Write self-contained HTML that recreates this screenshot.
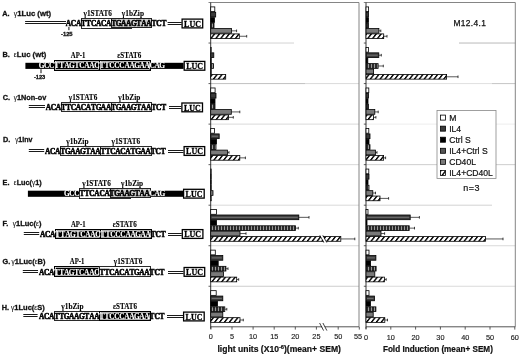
<!DOCTYPE html><html><head><meta charset="utf-8"><style>html,body{margin:0;padding:0;background:#fff;}svg{display:block;will-change:transform}.sans{font-family:"Liberation Sans",sans-serif}.serif{font-family:"Liberation Serif",serif}</style></head><body>
<svg width="520" height="356" viewBox="0 0 520 356">
<defs><pattern id="hatch" patternUnits="userSpaceOnUse" width="4.9" height="6" patternTransform="skewX(-38)"><rect width="4.9" height="6" fill="#fff"/><rect x="0" width="1.8" height="6" fill="#000"/></pattern><pattern id="vstripe" patternUnits="userSpaceOnUse" width="3" height="6"><rect width="3" height="6" fill="#2a2a2a"/><rect x="2" width="1" height="6" fill="#9a9a9a"/></pattern></defs>
<rect width="520" height="356" fill="#fff"/>
<text class="sans" x="2.20" y="16.0" font-size="7.3" font-weight="bold" fill="#111" stroke="#111" stroke-width="0.3">A.</text>
<text class="sans" x="13.8" y="16.0" font-size="7.6" font-weight="bold" fill="#111" stroke="#111" stroke-width="0.3" textLength="37.30" lengthAdjust="spacingAndGlyphs"><tspan font-weight="normal" stroke-width="0.1" font-size="6.6">γ</tspan>1Luc (wt)</text>
<rect x="25.1" y="21" width="40.90" height="1" fill="#1a1a1a"/>
<rect x="25.1" y="23" width="40.90" height="1" fill="#1a1a1a"/>
<rect x="167.6" y="22" width="14.10" height="1" fill="#1a1a1a"/>
<rect x="167.6" y="24" width="14.10" height="1" fill="#1a1a1a"/>
<rect x="81.50" y="18.50" width="50.00" height="10.00" fill="#fff" stroke="#2a2a2a" stroke-width="1"/>
<rect x="111.50" y="18.50" width="40.00" height="9.00" fill="#cccccc" stroke="#222" stroke-width="1"/>
<text class="serif" transform="translate(68.51,26.10) scale(1.0,1)" font-size="7.4" font-weight="bold" text-anchor="middle" fill="#000" stroke="#000" stroke-width="0.5">A</text>
<text class="serif" transform="translate(73.53,26.10) scale(1.0,1)" font-size="7.4" font-weight="bold" text-anchor="middle" fill="#000" stroke="#000" stroke-width="0.5">C</text>
<text class="serif" transform="translate(78.55,26.10) scale(1.0,1)" font-size="7.4" font-weight="bold" text-anchor="middle" fill="#000" stroke="#000" stroke-width="0.5">A</text>
<text class="serif" transform="translate(83.57,26.10) scale(1.0,1)" font-size="7.4" font-weight="bold" text-anchor="middle" fill="#000" stroke="#000" stroke-width="0.5">T</text>
<text class="serif" transform="translate(88.59,26.10) scale(1.0,1)" font-size="7.4" font-weight="bold" text-anchor="middle" fill="#000" stroke="#000" stroke-width="0.5">T</text>
<text class="serif" transform="translate(93.61,26.10) scale(1.0,1)" font-size="7.4" font-weight="bold" text-anchor="middle" fill="#000" stroke="#000" stroke-width="0.5">C</text>
<text class="serif" transform="translate(98.63,26.10) scale(1.0,1)" font-size="7.4" font-weight="bold" text-anchor="middle" fill="#000" stroke="#000" stroke-width="0.5">A</text>
<text class="serif" transform="translate(103.65,26.10) scale(1.0,1)" font-size="7.4" font-weight="bold" text-anchor="middle" fill="#000" stroke="#000" stroke-width="0.5">C</text>
<text class="serif" transform="translate(108.67,26.10) scale(1.0,1)" font-size="7.4" font-weight="bold" text-anchor="middle" fill="#000" stroke="#000" stroke-width="0.5">A</text>
<text class="serif" transform="translate(113.69,26.10) scale(1.0,1)" font-size="7.4" font-weight="bold" text-anchor="middle" fill="#000" stroke="#000" stroke-width="0.5">T</text>
<text class="serif" transform="translate(118.71,26.10) scale(1.0,1)" font-size="7.4" font-weight="bold" text-anchor="middle" fill="#000" stroke="#000" stroke-width="0.5">G</text>
<text class="serif" transform="translate(123.73,26.10) scale(1.0,1)" font-size="7.4" font-weight="bold" text-anchor="middle" fill="#000" stroke="#000" stroke-width="0.5">A</text>
<text class="serif" transform="translate(128.75,26.10) scale(1.0,1)" font-size="7.4" font-weight="bold" text-anchor="middle" fill="#000" stroke="#000" stroke-width="0.5">A</text>
<text class="serif" transform="translate(133.77,26.10) scale(1.0,1)" font-size="7.4" font-weight="bold" text-anchor="middle" fill="#000" stroke="#000" stroke-width="0.5">G</text>
<text class="serif" transform="translate(138.79,26.10) scale(1.0,1)" font-size="7.4" font-weight="bold" text-anchor="middle" fill="#000" stroke="#000" stroke-width="0.5">T</text>
<text class="serif" transform="translate(143.81,26.10) scale(1.0,1)" font-size="7.4" font-weight="bold" text-anchor="middle" fill="#000" stroke="#000" stroke-width="0.5">A</text>
<text class="serif" transform="translate(148.83,26.10) scale(1.0,1)" font-size="7.4" font-weight="bold" text-anchor="middle" fill="#000" stroke="#000" stroke-width="0.5">A</text>
<text class="serif" transform="translate(153.85,26.10) scale(1.0,1)" font-size="7.4" font-weight="bold" text-anchor="middle" fill="#000" stroke="#000" stroke-width="0.5">T</text>
<text class="serif" transform="translate(158.87,26.10) scale(1.0,1)" font-size="7.4" font-weight="bold" text-anchor="middle" fill="#000" stroke="#000" stroke-width="0.5">C</text>
<text class="serif" transform="translate(163.89,26.10) scale(1.0,1)" font-size="7.4" font-weight="bold" text-anchor="middle" fill="#000" stroke="#000" stroke-width="0.5">T</text>
<text class="serif" x="83.5" y="16.00" font-size="7.2" font-weight="bold" fill="#000" stroke="#000" stroke-width="0.1" textLength="28.5" lengthAdjust="spacingAndGlyphs">γ1STAT6</text>
<text class="serif" x="121.8" y="16.00" font-size="7.2" font-weight="bold" fill="#000" stroke="#000" stroke-width="0.1" textLength="22.2" lengthAdjust="spacingAndGlyphs">γ1bZip</text>
<rect x="182.10" y="19.10" width="20.6" height="8.8" fill="#fff" stroke="#000" stroke-width="1.3"/>
<text class="serif" x="184.10" y="26.80" font-size="9.2" font-weight="bold" fill="#000" stroke="#000" stroke-width="0.3" textLength="16.8" lengthAdjust="spacingAndGlyphs">LUC</text>
<text class="sans" x="2.60" y="57.2" font-size="7.3" font-weight="bold" fill="#111" stroke="#111" stroke-width="0.3">B.</text>
<text class="sans" x="13.8" y="57.2" font-size="7.6" font-weight="bold" fill="#111" stroke="#111" stroke-width="0.3" textLength="32.50" lengthAdjust="spacingAndGlyphs"><tspan font-weight="normal" stroke-width="0.1" font-size="6.6">ε</tspan>Luc (wt)</text>
<rect x="25.4" y="62.80" width="158.20" height="6.1" fill="#000"/>
<rect x="54.00" y="60.00" width="46.00" height="11.00" fill="#000"/>
<rect x="55.50" y="61.50" width="43.00" height="8.00" fill="none" stroke="#fff" stroke-width="0.7"/>
<rect x="99.00" y="60.00" width="52.00" height="11.00" fill="#000"/>
<rect x="100.50" y="61.50" width="49.00" height="8.00" fill="none" stroke="#fff" stroke-width="0.7"/>
<text class="serif" transform="translate(41.71,68.40) scale(1.0,1)" font-size="7.4" font-weight="bold" text-anchor="middle" fill="#fff" stroke="#fff" stroke-width="0.12">G</text>
<text class="serif" transform="translate(46.73,68.40) scale(1.0,1)" font-size="7.4" font-weight="bold" text-anchor="middle" fill="#fff" stroke="#fff" stroke-width="0.12">C</text>
<text class="serif" transform="translate(51.75,68.40) scale(1.0,1)" font-size="7.4" font-weight="bold" text-anchor="middle" fill="#fff" stroke="#fff" stroke-width="0.12">C</text>
<text class="serif" transform="translate(56.77,68.40) scale(1.0,1)" font-size="7.4" font-weight="bold" text-anchor="middle" fill="#fff" stroke="#fff" stroke-width="0.12">T</text>
<text class="serif" transform="translate(61.79,68.40) scale(1.0,1)" font-size="7.4" font-weight="bold" text-anchor="middle" fill="#fff" stroke="#fff" stroke-width="0.12">T</text>
<text class="serif" transform="translate(66.81,68.40) scale(1.0,1)" font-size="7.4" font-weight="bold" text-anchor="middle" fill="#fff" stroke="#fff" stroke-width="0.12">A</text>
<text class="serif" transform="translate(71.83,68.40) scale(1.0,1)" font-size="7.4" font-weight="bold" text-anchor="middle" fill="#fff" stroke="#fff" stroke-width="0.12">G</text>
<text class="serif" transform="translate(76.85,68.40) scale(1.0,1)" font-size="7.4" font-weight="bold" text-anchor="middle" fill="#fff" stroke="#fff" stroke-width="0.12">T</text>
<text class="serif" transform="translate(81.87,68.40) scale(1.0,1)" font-size="7.4" font-weight="bold" text-anchor="middle" fill="#fff" stroke="#fff" stroke-width="0.12">C</text>
<text class="serif" transform="translate(86.89,68.40) scale(1.0,1)" font-size="7.4" font-weight="bold" text-anchor="middle" fill="#fff" stroke="#fff" stroke-width="0.12">A</text>
<text class="serif" transform="translate(91.91,68.40) scale(1.0,1)" font-size="7.4" font-weight="bold" text-anchor="middle" fill="#fff" stroke="#fff" stroke-width="0.12">A</text>
<text class="serif" transform="translate(96.93,68.40) scale(1.0,1)" font-size="7.4" font-weight="bold" text-anchor="middle" fill="#fff" stroke="#fff" stroke-width="0.12">C</text>
<text class="serif" transform="translate(101.95,68.40) scale(1.0,1)" font-size="7.4" font-weight="bold" text-anchor="middle" fill="#fff" stroke="#fff" stroke-width="0.12">T</text>
<text class="serif" transform="translate(106.97,68.40) scale(1.0,1)" font-size="7.4" font-weight="bold" text-anchor="middle" fill="#fff" stroke="#fff" stroke-width="0.12">T</text>
<text class="serif" transform="translate(111.99,68.40) scale(1.0,1)" font-size="7.4" font-weight="bold" text-anchor="middle" fill="#fff" stroke="#fff" stroke-width="0.12">C</text>
<text class="serif" transform="translate(117.01,68.40) scale(1.0,1)" font-size="7.4" font-weight="bold" text-anchor="middle" fill="#fff" stroke="#fff" stroke-width="0.12">C</text>
<text class="serif" transform="translate(122.03,68.40) scale(1.0,1)" font-size="7.4" font-weight="bold" text-anchor="middle" fill="#fff" stroke="#fff" stroke-width="0.12">C</text>
<text class="serif" transform="translate(127.05,68.40) scale(1.0,1)" font-size="7.4" font-weight="bold" text-anchor="middle" fill="#fff" stroke="#fff" stroke-width="0.12">A</text>
<text class="serif" transform="translate(132.07,68.40) scale(1.0,1)" font-size="7.4" font-weight="bold" text-anchor="middle" fill="#fff" stroke="#fff" stroke-width="0.12">A</text>
<text class="serif" transform="translate(137.09,68.40) scale(1.0,1)" font-size="7.4" font-weight="bold" text-anchor="middle" fill="#fff" stroke="#fff" stroke-width="0.12">G</text>
<text class="serif" transform="translate(142.11,68.40) scale(1.0,1)" font-size="7.4" font-weight="bold" text-anchor="middle" fill="#fff" stroke="#fff" stroke-width="0.12">A</text>
<text class="serif" transform="translate(147.13,68.40) scale(1.0,1)" font-size="7.4" font-weight="bold" text-anchor="middle" fill="#fff" stroke="#fff" stroke-width="0.12">A</text>
<text class="serif" transform="translate(152.15,68.40) scale(1.0,1)" font-size="7.4" font-weight="bold" text-anchor="middle" fill="#fff" stroke="#fff" stroke-width="0.12">C</text>
<text class="serif" transform="translate(157.17,68.40) scale(1.0,1)" font-size="7.4" font-weight="bold" text-anchor="middle" fill="#fff" stroke="#fff" stroke-width="0.12">A</text>
<text class="serif" transform="translate(162.19,68.40) scale(1.0,1)" font-size="7.4" font-weight="bold" text-anchor="middle" fill="#fff" stroke="#fff" stroke-width="0.12">G</text>
<text class="serif" x="70.8" y="58.30" font-size="7.2" font-weight="bold" fill="#000" stroke="#000" stroke-width="0.1" textLength="14.6" lengthAdjust="spacingAndGlyphs">AP-1</text>
<text class="serif" x="117.3" y="58.30" font-size="7.2" font-weight="bold" fill="#000" stroke="#000" stroke-width="0.1" textLength="24.0" lengthAdjust="spacingAndGlyphs">εSTAT6</text>
<rect x="184.20" y="61.40" width="20.6" height="8.8" fill="#fff" stroke="#000" stroke-width="1.3"/>
<text class="serif" x="186.20" y="69.10" font-size="9.2" font-weight="bold" fill="#000" stroke="#000" stroke-width="0.3" textLength="16.8" lengthAdjust="spacingAndGlyphs">LUC</text>
<text class="sans" x="2.70" y="99.8" font-size="7.3" font-weight="bold" fill="#111" stroke="#111" stroke-width="0.3">C.</text>
<text class="sans" x="13.8" y="99.8" font-size="7.6" font-weight="bold" fill="#111" stroke="#111" stroke-width="0.3" textLength="32.50" lengthAdjust="spacingAndGlyphs"><tspan font-weight="normal" stroke-width="0.1" font-size="6.6">γ</tspan>1Non-ov</text>
<rect x="28.8" y="105" width="16.20" height="1" fill="#1a1a1a"/>
<rect x="28.8" y="107" width="16.20" height="1" fill="#1a1a1a"/>
<rect x="169.0" y="106" width="12.30" height="1" fill="#1a1a1a"/>
<rect x="169.0" y="108" width="12.30" height="1" fill="#1a1a1a"/>
<rect x="61.50" y="102.50" width="50.00" height="9.00" fill="#fff" stroke="#2a2a2a" stroke-width="1"/>
<rect x="111.50" y="102.50" width="40.00" height="9.00" fill="#fff" stroke="#2a2a2a" stroke-width="1"/>
<text class="serif" transform="translate(48.31,110.00) scale(1.0,1)" font-size="7.4" font-weight="bold" text-anchor="middle" fill="#000" stroke="#000" stroke-width="0.5">A</text>
<text class="serif" transform="translate(53.33,110.00) scale(1.0,1)" font-size="7.4" font-weight="bold" text-anchor="middle" fill="#000" stroke="#000" stroke-width="0.5">C</text>
<text class="serif" transform="translate(58.35,110.00) scale(1.0,1)" font-size="7.4" font-weight="bold" text-anchor="middle" fill="#000" stroke="#000" stroke-width="0.5">A</text>
<text class="serif" transform="translate(63.37,110.00) scale(1.0,1)" font-size="7.4" font-weight="bold" text-anchor="middle" fill="#000" stroke="#000" stroke-width="0.5">T</text>
<text class="serif" transform="translate(68.39,110.00) scale(1.0,1)" font-size="7.4" font-weight="bold" text-anchor="middle" fill="#000" stroke="#000" stroke-width="0.5">T</text>
<text class="serif" transform="translate(73.41,110.00) scale(1.0,1)" font-size="7.4" font-weight="bold" text-anchor="middle" fill="#000" stroke="#000" stroke-width="0.5">C</text>
<text class="serif" transform="translate(78.43,110.00) scale(1.0,1)" font-size="7.4" font-weight="bold" text-anchor="middle" fill="#000" stroke="#000" stroke-width="0.5">A</text>
<text class="serif" transform="translate(83.45,110.00) scale(1.0,1)" font-size="7.4" font-weight="bold" text-anchor="middle" fill="#000" stroke="#000" stroke-width="0.5">C</text>
<text class="serif" transform="translate(88.47,110.00) scale(1.0,1)" font-size="7.4" font-weight="bold" text-anchor="middle" fill="#000" stroke="#000" stroke-width="0.5">A</text>
<text class="serif" transform="translate(93.49,110.00) scale(1.0,1)" font-size="7.4" font-weight="bold" text-anchor="middle" fill="#000" stroke="#000" stroke-width="0.5">T</text>
<text class="serif" transform="translate(98.51,110.00) scale(1.0,1)" font-size="7.4" font-weight="bold" text-anchor="middle" fill="#000" stroke="#000" stroke-width="0.5">G</text>
<text class="serif" transform="translate(103.53,110.00) scale(1.0,1)" font-size="7.4" font-weight="bold" text-anchor="middle" fill="#000" stroke="#000" stroke-width="0.5">A</text>
<text class="serif" transform="translate(108.55,110.00) scale(1.0,1)" font-size="7.4" font-weight="bold" text-anchor="middle" fill="#000" stroke="#000" stroke-width="0.5">A</text>
<text class="serif" transform="translate(113.57,110.00) scale(1.0,1)" font-size="7.4" font-weight="bold" text-anchor="middle" fill="#000" stroke="#000" stroke-width="0.5">T</text>
<text class="serif" transform="translate(118.59,110.00) scale(1.0,1)" font-size="7.4" font-weight="bold" text-anchor="middle" fill="#000" stroke="#000" stroke-width="0.5">G</text>
<text class="serif" transform="translate(123.61,110.00) scale(1.0,1)" font-size="7.4" font-weight="bold" text-anchor="middle" fill="#000" stroke="#000" stroke-width="0.5">A</text>
<text class="serif" transform="translate(128.63,110.00) scale(1.0,1)" font-size="7.4" font-weight="bold" text-anchor="middle" fill="#000" stroke="#000" stroke-width="0.5">A</text>
<text class="serif" transform="translate(133.65,110.00) scale(1.0,1)" font-size="7.4" font-weight="bold" text-anchor="middle" fill="#000" stroke="#000" stroke-width="0.5">G</text>
<text class="serif" transform="translate(138.67,110.00) scale(1.0,1)" font-size="7.4" font-weight="bold" text-anchor="middle" fill="#000" stroke="#000" stroke-width="0.5">T</text>
<text class="serif" transform="translate(143.69,110.00) scale(1.0,1)" font-size="7.4" font-weight="bold" text-anchor="middle" fill="#000" stroke="#000" stroke-width="0.5">A</text>
<text class="serif" transform="translate(148.71,110.00) scale(1.0,1)" font-size="7.4" font-weight="bold" text-anchor="middle" fill="#000" stroke="#000" stroke-width="0.5">A</text>
<text class="serif" transform="translate(153.73,110.00) scale(1.0,1)" font-size="7.4" font-weight="bold" text-anchor="middle" fill="#000" stroke="#000" stroke-width="0.5">T</text>
<text class="serif" transform="translate(158.75,110.00) scale(1.0,1)" font-size="7.4" font-weight="bold" text-anchor="middle" fill="#000" stroke="#000" stroke-width="0.5">C</text>
<text class="serif" transform="translate(163.77,110.00) scale(1.0,1)" font-size="7.4" font-weight="bold" text-anchor="middle" fill="#000" stroke="#000" stroke-width="0.5">T</text>
<text class="serif" x="68.8" y="99.90" font-size="7.2" font-weight="bold" fill="#000" stroke="#000" stroke-width="0.1" textLength="28.5" lengthAdjust="spacingAndGlyphs">γ1STAT6</text>
<text class="serif" x="118.2" y="99.90" font-size="7.2" font-weight="bold" fill="#000" stroke="#000" stroke-width="0.1" textLength="22.2" lengthAdjust="spacingAndGlyphs">γ1bZip</text>
<rect x="181.90" y="103.00" width="20.6" height="8.8" fill="#fff" stroke="#000" stroke-width="1.3"/>
<text class="serif" x="183.90" y="110.70" font-size="9.2" font-weight="bold" fill="#000" stroke="#000" stroke-width="0.3" textLength="16.8" lengthAdjust="spacingAndGlyphs">LUC</text>
<text class="sans" x="2.90" y="142.3" font-size="7.3" font-weight="bold" fill="#111" stroke="#111" stroke-width="0.3">D.</text>
<text class="sans" x="15.2" y="142.3" font-size="7.6" font-weight="bold" fill="#111" stroke="#111" stroke-width="0.3" textLength="17.20" lengthAdjust="spacingAndGlyphs"><tspan font-weight="normal" stroke-width="0.1" font-size="6.6">γ</tspan>1Inv</text>
<rect x="28.8" y="149" width="15.40" height="1" fill="#1a1a1a"/>
<rect x="28.8" y="151" width="15.40" height="1" fill="#1a1a1a"/>
<rect x="168.0" y="150" width="15.50" height="1" fill="#1a1a1a"/>
<rect x="168.0" y="152" width="15.50" height="1" fill="#1a1a1a"/>
<rect x="60.50" y="146.50" width="40.00" height="9.00" fill="#fff" stroke="#2a2a2a" stroke-width="1"/>
<rect x="100.50" y="146.50" width="51.00" height="9.00" fill="#fff" stroke="#2a2a2a" stroke-width="1"/>
<text class="serif" transform="translate(47.71,153.60) scale(1.0,1)" font-size="7.4" font-weight="bold" text-anchor="middle" fill="#000" stroke="#000" stroke-width="0.5">A</text>
<text class="serif" transform="translate(52.73,153.60) scale(1.0,1)" font-size="7.4" font-weight="bold" text-anchor="middle" fill="#000" stroke="#000" stroke-width="0.5">C</text>
<text class="serif" transform="translate(57.75,153.60) scale(1.0,1)" font-size="7.4" font-weight="bold" text-anchor="middle" fill="#000" stroke="#000" stroke-width="0.5">A</text>
<text class="serif" transform="translate(62.77,153.60) scale(1.0,1)" font-size="7.4" font-weight="bold" text-anchor="middle" fill="#000" stroke="#000" stroke-width="0.5">T</text>
<text class="serif" transform="translate(67.79,153.60) scale(1.0,1)" font-size="7.4" font-weight="bold" text-anchor="middle" fill="#000" stroke="#000" stroke-width="0.5">G</text>
<text class="serif" transform="translate(72.81,153.60) scale(1.0,1)" font-size="7.4" font-weight="bold" text-anchor="middle" fill="#000" stroke="#000" stroke-width="0.5">A</text>
<text class="serif" transform="translate(77.83,153.60) scale(1.0,1)" font-size="7.4" font-weight="bold" text-anchor="middle" fill="#000" stroke="#000" stroke-width="0.5">A</text>
<text class="serif" transform="translate(82.85,153.60) scale(1.0,1)" font-size="7.4" font-weight="bold" text-anchor="middle" fill="#000" stroke="#000" stroke-width="0.5">G</text>
<text class="serif" transform="translate(87.87,153.60) scale(1.0,1)" font-size="7.4" font-weight="bold" text-anchor="middle" fill="#000" stroke="#000" stroke-width="0.5">T</text>
<text class="serif" transform="translate(92.89,153.60) scale(1.0,1)" font-size="7.4" font-weight="bold" text-anchor="middle" fill="#000" stroke="#000" stroke-width="0.5">A</text>
<text class="serif" transform="translate(97.91,153.60) scale(1.0,1)" font-size="7.4" font-weight="bold" text-anchor="middle" fill="#000" stroke="#000" stroke-width="0.5">A</text>
<text class="serif" transform="translate(102.93,153.60) scale(1.0,1)" font-size="7.4" font-weight="bold" text-anchor="middle" fill="#000" stroke="#000" stroke-width="0.5">T</text>
<text class="serif" transform="translate(107.95,153.60) scale(1.0,1)" font-size="7.4" font-weight="bold" text-anchor="middle" fill="#000" stroke="#000" stroke-width="0.5">T</text>
<text class="serif" transform="translate(112.97,153.60) scale(1.0,1)" font-size="7.4" font-weight="bold" text-anchor="middle" fill="#000" stroke="#000" stroke-width="0.5">C</text>
<text class="serif" transform="translate(117.99,153.60) scale(1.0,1)" font-size="7.4" font-weight="bold" text-anchor="middle" fill="#000" stroke="#000" stroke-width="0.5">A</text>
<text class="serif" transform="translate(123.01,153.60) scale(1.0,1)" font-size="7.4" font-weight="bold" text-anchor="middle" fill="#000" stroke="#000" stroke-width="0.5">C</text>
<text class="serif" transform="translate(128.03,153.60) scale(1.0,1)" font-size="7.4" font-weight="bold" text-anchor="middle" fill="#000" stroke="#000" stroke-width="0.5">A</text>
<text class="serif" transform="translate(133.05,153.60) scale(1.0,1)" font-size="7.4" font-weight="bold" text-anchor="middle" fill="#000" stroke="#000" stroke-width="0.5">T</text>
<text class="serif" transform="translate(138.07,153.60) scale(1.0,1)" font-size="7.4" font-weight="bold" text-anchor="middle" fill="#000" stroke="#000" stroke-width="0.5">G</text>
<text class="serif" transform="translate(143.09,153.60) scale(1.0,1)" font-size="7.4" font-weight="bold" text-anchor="middle" fill="#000" stroke="#000" stroke-width="0.5">A</text>
<text class="serif" transform="translate(148.11,153.60) scale(1.0,1)" font-size="7.4" font-weight="bold" text-anchor="middle" fill="#000" stroke="#000" stroke-width="0.5">A</text>
<text class="serif" transform="translate(153.13,153.60) scale(1.0,1)" font-size="7.4" font-weight="bold" text-anchor="middle" fill="#000" stroke="#000" stroke-width="0.5">T</text>
<text class="serif" transform="translate(158.15,153.60) scale(1.0,1)" font-size="7.4" font-weight="bold" text-anchor="middle" fill="#000" stroke="#000" stroke-width="0.5">C</text>
<text class="serif" transform="translate(163.17,153.60) scale(1.0,1)" font-size="7.4" font-weight="bold" text-anchor="middle" fill="#000" stroke="#000" stroke-width="0.5">T</text>
<text class="serif" x="66.3" y="143.50" font-size="7.2" font-weight="bold" fill="#000" stroke="#000" stroke-width="0.1" textLength="22.2" lengthAdjust="spacingAndGlyphs">γ1bZip</text>
<text class="serif" x="111.6" y="143.50" font-size="7.2" font-weight="bold" fill="#000" stroke="#000" stroke-width="0.1" textLength="28.5" lengthAdjust="spacingAndGlyphs">γ1STAT6</text>
<rect x="184.10" y="146.60" width="20.6" height="8.8" fill="#fff" stroke="#000" stroke-width="1.3"/>
<text class="serif" x="186.10" y="154.30" font-size="9.2" font-weight="bold" fill="#000" stroke="#000" stroke-width="0.3" textLength="16.8" lengthAdjust="spacingAndGlyphs">LUC</text>
<text class="sans" x="2.60" y="184.8" font-size="7.3" font-weight="bold" fill="#111" stroke="#111" stroke-width="0.3">E.</text>
<text class="sans" x="13.8" y="184.8" font-size="7.6" font-weight="bold" fill="#111" stroke="#111" stroke-width="0.3" textLength="27.90" lengthAdjust="spacingAndGlyphs"><tspan font-weight="normal" stroke-width="0.1" font-size="6.6">ε</tspan>Luc(<tspan font-weight="normal" stroke-width="0.1" font-size="6.6">γ</tspan>1)</text>
<rect x="27.9" y="190.70" width="155.10" height="6.1" fill="#000"/>
<rect x="79.50" y="188.50" width="51.00" height="10.00" fill="#fff" stroke="#2a2a2a" stroke-width="1"/>
<rect x="110.50" y="188.50" width="40.00" height="9.00" fill="#cccccc" stroke="#222" stroke-width="1"/>
<text class="serif" transform="translate(66.91,196.30) scale(1.0,1)" font-size="7.4" font-weight="bold" text-anchor="middle" fill="#fff" stroke="#fff" stroke-width="0.12">G</text>
<text class="serif" transform="translate(71.93,196.30) scale(1.0,1)" font-size="7.4" font-weight="bold" text-anchor="middle" fill="#fff" stroke="#fff" stroke-width="0.12">C</text>
<text class="serif" transform="translate(76.95,196.30) scale(1.0,1)" font-size="7.4" font-weight="bold" text-anchor="middle" fill="#fff" stroke="#fff" stroke-width="0.12">C</text>
<text class="serif" transform="translate(81.97,196.30) scale(1.0,1)" font-size="7.4" font-weight="bold" text-anchor="middle" fill="#000" stroke="#000" stroke-width="0.5">T</text>
<text class="serif" transform="translate(86.99,196.30) scale(1.0,1)" font-size="7.4" font-weight="bold" text-anchor="middle" fill="#000" stroke="#000" stroke-width="0.5">T</text>
<text class="serif" transform="translate(92.01,196.30) scale(1.0,1)" font-size="7.4" font-weight="bold" text-anchor="middle" fill="#000" stroke="#000" stroke-width="0.5">C</text>
<text class="serif" transform="translate(97.03,196.30) scale(1.0,1)" font-size="7.4" font-weight="bold" text-anchor="middle" fill="#000" stroke="#000" stroke-width="0.5">A</text>
<text class="serif" transform="translate(102.05,196.30) scale(1.0,1)" font-size="7.4" font-weight="bold" text-anchor="middle" fill="#000" stroke="#000" stroke-width="0.5">C</text>
<text class="serif" transform="translate(107.07,196.30) scale(1.0,1)" font-size="7.4" font-weight="bold" text-anchor="middle" fill="#000" stroke="#000" stroke-width="0.5">A</text>
<text class="serif" transform="translate(112.09,196.30) scale(1.0,1)" font-size="7.4" font-weight="bold" text-anchor="middle" fill="#000" stroke="#000" stroke-width="0.5">T</text>
<text class="serif" transform="translate(117.11,196.30) scale(1.0,1)" font-size="7.4" font-weight="bold" text-anchor="middle" fill="#000" stroke="#000" stroke-width="0.5">G</text>
<text class="serif" transform="translate(122.13,196.30) scale(1.0,1)" font-size="7.4" font-weight="bold" text-anchor="middle" fill="#000" stroke="#000" stroke-width="0.5">A</text>
<text class="serif" transform="translate(127.15,196.30) scale(1.0,1)" font-size="7.4" font-weight="bold" text-anchor="middle" fill="#000" stroke="#000" stroke-width="0.5">A</text>
<text class="serif" transform="translate(132.17,196.30) scale(1.0,1)" font-size="7.4" font-weight="bold" text-anchor="middle" fill="#000" stroke="#000" stroke-width="0.5">G</text>
<text class="serif" transform="translate(137.19,196.30) scale(1.0,1)" font-size="7.4" font-weight="bold" text-anchor="middle" fill="#000" stroke="#000" stroke-width="0.5">T</text>
<text class="serif" transform="translate(142.21,196.30) scale(1.0,1)" font-size="7.4" font-weight="bold" text-anchor="middle" fill="#000" stroke="#000" stroke-width="0.5">A</text>
<text class="serif" transform="translate(147.23,196.30) scale(1.0,1)" font-size="7.4" font-weight="bold" text-anchor="middle" fill="#000" stroke="#000" stroke-width="0.5">A</text>
<text class="serif" transform="translate(152.25,196.30) scale(1.0,1)" font-size="7.4" font-weight="bold" text-anchor="middle" fill="#fff" stroke="#fff" stroke-width="0.12">C</text>
<text class="serif" transform="translate(157.27,196.30) scale(1.0,1)" font-size="7.4" font-weight="bold" text-anchor="middle" fill="#fff" stroke="#fff" stroke-width="0.12">A</text>
<text class="serif" transform="translate(162.29,196.30) scale(1.0,1)" font-size="7.4" font-weight="bold" text-anchor="middle" fill="#fff" stroke="#fff" stroke-width="0.12">G</text>
<text class="serif" x="82.3" y="186.20" font-size="7.2" font-weight="bold" fill="#000" stroke="#000" stroke-width="0.1" textLength="28.5" lengthAdjust="spacingAndGlyphs">γ1STAT6</text>
<text class="serif" x="121.0" y="186.20" font-size="7.2" font-weight="bold" fill="#000" stroke="#000" stroke-width="0.1" textLength="22.2" lengthAdjust="spacingAndGlyphs">γ1bZip</text>
<rect x="183.60" y="189.30" width="20.6" height="8.8" fill="#fff" stroke="#000" stroke-width="1.3"/>
<text class="serif" x="185.60" y="197.00" font-size="9.2" font-weight="bold" fill="#000" stroke="#000" stroke-width="0.3" textLength="16.8" lengthAdjust="spacingAndGlyphs">LUC</text>
<text class="sans" x="2.60" y="226.0" font-size="7.3" font-weight="bold" fill="#111" stroke="#111" stroke-width="0.3">F.</text>
<text class="sans" x="12.7" y="226.0" font-size="7.6" font-weight="bold" fill="#111" stroke="#111" stroke-width="0.3" textLength="28.70" lengthAdjust="spacingAndGlyphs"><tspan font-weight="normal" stroke-width="0.1" font-size="6.6">γ</tspan>1Luc(<tspan font-weight="normal" stroke-width="0.1" font-size="6.6">ε</tspan>)</text>
<rect x="23.8" y="232" width="15.40" height="1" fill="#1a1a1a"/>
<rect x="23.8" y="234" width="15.40" height="1" fill="#1a1a1a"/>
<rect x="168.0" y="233" width="13.70" height="1" fill="#1a1a1a"/>
<rect x="168.0" y="235" width="13.70" height="1" fill="#1a1a1a"/>
<rect x="55.00" y="229.00" width="46.00" height="10.00" fill="#000"/>
<rect x="56.50" y="230.50" width="43.00" height="7.00" fill="none" stroke="#fff" stroke-width="0.7"/>
<rect x="100.00" y="229.00" width="52.00" height="10.00" fill="#000"/>
<rect x="101.50" y="230.50" width="49.00" height="7.00" fill="none" stroke="#fff" stroke-width="0.7"/>
<text class="serif" transform="translate(42.71,236.60) scale(1.0,1)" font-size="7.4" font-weight="bold" text-anchor="middle" fill="#000" stroke="#000" stroke-width="0.5">A</text>
<text class="serif" transform="translate(47.73,236.60) scale(1.0,1)" font-size="7.4" font-weight="bold" text-anchor="middle" fill="#000" stroke="#000" stroke-width="0.5">C</text>
<text class="serif" transform="translate(52.75,236.60) scale(1.0,1)" font-size="7.4" font-weight="bold" text-anchor="middle" fill="#000" stroke="#000" stroke-width="0.5">A</text>
<text class="serif" transform="translate(57.77,236.60) scale(1.0,1)" font-size="7.4" font-weight="bold" text-anchor="middle" fill="#fff" stroke="#fff" stroke-width="0.12">T</text>
<text class="serif" transform="translate(62.79,236.60) scale(1.0,1)" font-size="7.4" font-weight="bold" text-anchor="middle" fill="#fff" stroke="#fff" stroke-width="0.12">T</text>
<text class="serif" transform="translate(67.81,236.60) scale(1.0,1)" font-size="7.4" font-weight="bold" text-anchor="middle" fill="#fff" stroke="#fff" stroke-width="0.12">A</text>
<text class="serif" transform="translate(72.83,236.60) scale(1.0,1)" font-size="7.4" font-weight="bold" text-anchor="middle" fill="#fff" stroke="#fff" stroke-width="0.12">G</text>
<text class="serif" transform="translate(77.85,236.60) scale(1.0,1)" font-size="7.4" font-weight="bold" text-anchor="middle" fill="#fff" stroke="#fff" stroke-width="0.12">T</text>
<text class="serif" transform="translate(82.87,236.60) scale(1.0,1)" font-size="7.4" font-weight="bold" text-anchor="middle" fill="#fff" stroke="#fff" stroke-width="0.12">C</text>
<text class="serif" transform="translate(87.89,236.60) scale(1.0,1)" font-size="7.4" font-weight="bold" text-anchor="middle" fill="#fff" stroke="#fff" stroke-width="0.12">A</text>
<text class="serif" transform="translate(92.91,236.60) scale(1.0,1)" font-size="7.4" font-weight="bold" text-anchor="middle" fill="#fff" stroke="#fff" stroke-width="0.12">A</text>
<text class="serif" transform="translate(97.93,236.60) scale(1.0,1)" font-size="7.4" font-weight="bold" text-anchor="middle" fill="#fff" stroke="#fff" stroke-width="0.12">C</text>
<text class="serif" transform="translate(102.95,236.60) scale(1.0,1)" font-size="7.4" font-weight="bold" text-anchor="middle" fill="#fff" stroke="#fff" stroke-width="0.12">T</text>
<text class="serif" transform="translate(107.97,236.60) scale(1.0,1)" font-size="7.4" font-weight="bold" text-anchor="middle" fill="#fff" stroke="#fff" stroke-width="0.12">T</text>
<text class="serif" transform="translate(112.99,236.60) scale(1.0,1)" font-size="7.4" font-weight="bold" text-anchor="middle" fill="#fff" stroke="#fff" stroke-width="0.12">C</text>
<text class="serif" transform="translate(118.01,236.60) scale(1.0,1)" font-size="7.4" font-weight="bold" text-anchor="middle" fill="#fff" stroke="#fff" stroke-width="0.12">C</text>
<text class="serif" transform="translate(123.03,236.60) scale(1.0,1)" font-size="7.4" font-weight="bold" text-anchor="middle" fill="#fff" stroke="#fff" stroke-width="0.12">C</text>
<text class="serif" transform="translate(128.05,236.60) scale(1.0,1)" font-size="7.4" font-weight="bold" text-anchor="middle" fill="#fff" stroke="#fff" stroke-width="0.12">A</text>
<text class="serif" transform="translate(133.07,236.60) scale(1.0,1)" font-size="7.4" font-weight="bold" text-anchor="middle" fill="#fff" stroke="#fff" stroke-width="0.12">A</text>
<text class="serif" transform="translate(138.09,236.60) scale(1.0,1)" font-size="7.4" font-weight="bold" text-anchor="middle" fill="#fff" stroke="#fff" stroke-width="0.12">G</text>
<text class="serif" transform="translate(143.11,236.60) scale(1.0,1)" font-size="7.4" font-weight="bold" text-anchor="middle" fill="#fff" stroke="#fff" stroke-width="0.12">A</text>
<text class="serif" transform="translate(148.13,236.60) scale(1.0,1)" font-size="7.4" font-weight="bold" text-anchor="middle" fill="#fff" stroke="#fff" stroke-width="0.12">A</text>
<text class="serif" transform="translate(153.15,236.60) scale(1.0,1)" font-size="7.4" font-weight="bold" text-anchor="middle" fill="#000" stroke="#000" stroke-width="0.5">T</text>
<text class="serif" transform="translate(158.17,236.60) scale(1.0,1)" font-size="7.4" font-weight="bold" text-anchor="middle" fill="#000" stroke="#000" stroke-width="0.5">C</text>
<text class="serif" transform="translate(163.19,236.60) scale(1.0,1)" font-size="7.4" font-weight="bold" text-anchor="middle" fill="#000" stroke="#000" stroke-width="0.5">T</text>
<text class="serif" x="71.0" y="226.50" font-size="7.2" font-weight="bold" fill="#000" stroke="#000" stroke-width="0.1" textLength="14.6" lengthAdjust="spacingAndGlyphs">AP-1</text>
<text class="serif" x="112.7" y="226.50" font-size="7.2" font-weight="bold" fill="#000" stroke="#000" stroke-width="0.1" textLength="24.0" lengthAdjust="spacingAndGlyphs">εSTAT6</text>
<rect x="182.30" y="229.60" width="20.6" height="8.8" fill="#fff" stroke="#000" stroke-width="1.3"/>
<text class="serif" x="184.30" y="237.30" font-size="9.2" font-weight="bold" fill="#000" stroke="#000" stroke-width="0.3" textLength="16.8" lengthAdjust="spacingAndGlyphs">LUC</text>
<text class="sans" x="2.60" y="263.5" font-size="7.3" font-weight="bold" fill="#111" stroke="#111" stroke-width="0.3">G.</text>
<text class="sans" x="11.5" y="263.5" font-size="7.6" font-weight="bold" fill="#111" stroke="#111" stroke-width="0.3" textLength="33.90" lengthAdjust="spacingAndGlyphs"><tspan font-weight="normal" stroke-width="0.1" font-size="6.6">γ</tspan>1Luc(<tspan font-weight="normal" stroke-width="0.1" font-size="6.6">ε</tspan>B)</text>
<rect x="22.8" y="270" width="15.20" height="1" fill="#1a1a1a"/>
<rect x="22.8" y="272" width="15.20" height="1" fill="#1a1a1a"/>
<rect x="168.0" y="271" width="15.50" height="1" fill="#1a1a1a"/>
<rect x="168.0" y="273" width="15.50" height="1" fill="#1a1a1a"/>
<rect x="54.00" y="266.00" width="46.00" height="11.00" fill="#000"/>
<rect x="55.50" y="267.50" width="43.00" height="8.00" fill="none" stroke="#fff" stroke-width="0.7"/>
<rect x="99.50" y="266.50" width="51.00" height="10.00" fill="#fff" stroke="#2a2a2a" stroke-width="1"/>
<text class="serif" transform="translate(41.61,274.50) scale(1.0,1)" font-size="7.4" font-weight="bold" text-anchor="middle" fill="#000" stroke="#000" stroke-width="0.5">A</text>
<text class="serif" transform="translate(46.63,274.50) scale(1.0,1)" font-size="7.4" font-weight="bold" text-anchor="middle" fill="#000" stroke="#000" stroke-width="0.5">C</text>
<text class="serif" transform="translate(51.65,274.50) scale(1.0,1)" font-size="7.4" font-weight="bold" text-anchor="middle" fill="#000" stroke="#000" stroke-width="0.5">A</text>
<text class="serif" transform="translate(56.67,274.50) scale(1.0,1)" font-size="7.4" font-weight="bold" text-anchor="middle" fill="#fff" stroke="#fff" stroke-width="0.12">T</text>
<text class="serif" transform="translate(61.69,274.50) scale(1.0,1)" font-size="7.4" font-weight="bold" text-anchor="middle" fill="#fff" stroke="#fff" stroke-width="0.12">T</text>
<text class="serif" transform="translate(66.71,274.50) scale(1.0,1)" font-size="7.4" font-weight="bold" text-anchor="middle" fill="#fff" stroke="#fff" stroke-width="0.12">A</text>
<text class="serif" transform="translate(71.73,274.50) scale(1.0,1)" font-size="7.4" font-weight="bold" text-anchor="middle" fill="#fff" stroke="#fff" stroke-width="0.12">G</text>
<text class="serif" transform="translate(76.75,274.50) scale(1.0,1)" font-size="7.4" font-weight="bold" text-anchor="middle" fill="#fff" stroke="#fff" stroke-width="0.12">T</text>
<text class="serif" transform="translate(81.77,274.50) scale(1.0,1)" font-size="7.4" font-weight="bold" text-anchor="middle" fill="#fff" stroke="#fff" stroke-width="0.12">C</text>
<text class="serif" transform="translate(86.79,274.50) scale(1.0,1)" font-size="7.4" font-weight="bold" text-anchor="middle" fill="#fff" stroke="#fff" stroke-width="0.12">A</text>
<text class="serif" transform="translate(91.81,274.50) scale(1.0,1)" font-size="7.4" font-weight="bold" text-anchor="middle" fill="#fff" stroke="#fff" stroke-width="0.12">A</text>
<text class="serif" transform="translate(96.83,274.50) scale(1.0,1)" font-size="7.4" font-weight="bold" text-anchor="middle" fill="#fff" stroke="#fff" stroke-width="0.12">C</text>
<text class="serif" transform="translate(101.85,274.50) scale(1.0,1)" font-size="7.4" font-weight="bold" text-anchor="middle" fill="#000" stroke="#000" stroke-width="0.5">T</text>
<text class="serif" transform="translate(106.87,274.50) scale(1.0,1)" font-size="7.4" font-weight="bold" text-anchor="middle" fill="#000" stroke="#000" stroke-width="0.5">T</text>
<text class="serif" transform="translate(111.89,274.50) scale(1.0,1)" font-size="7.4" font-weight="bold" text-anchor="middle" fill="#000" stroke="#000" stroke-width="0.5">C</text>
<text class="serif" transform="translate(116.91,274.50) scale(1.0,1)" font-size="7.4" font-weight="bold" text-anchor="middle" fill="#000" stroke="#000" stroke-width="0.5">A</text>
<text class="serif" transform="translate(121.93,274.50) scale(1.0,1)" font-size="7.4" font-weight="bold" text-anchor="middle" fill="#000" stroke="#000" stroke-width="0.5">C</text>
<text class="serif" transform="translate(126.95,274.50) scale(1.0,1)" font-size="7.4" font-weight="bold" text-anchor="middle" fill="#000" stroke="#000" stroke-width="0.5">A</text>
<text class="serif" transform="translate(131.97,274.50) scale(1.0,1)" font-size="7.4" font-weight="bold" text-anchor="middle" fill="#000" stroke="#000" stroke-width="0.5">T</text>
<text class="serif" transform="translate(136.99,274.50) scale(1.0,1)" font-size="7.4" font-weight="bold" text-anchor="middle" fill="#000" stroke="#000" stroke-width="0.5">G</text>
<text class="serif" transform="translate(142.01,274.50) scale(1.0,1)" font-size="7.4" font-weight="bold" text-anchor="middle" fill="#000" stroke="#000" stroke-width="0.5">A</text>
<text class="serif" transform="translate(147.03,274.50) scale(1.0,1)" font-size="7.4" font-weight="bold" text-anchor="middle" fill="#000" stroke="#000" stroke-width="0.5">A</text>
<text class="serif" transform="translate(152.05,274.50) scale(1.0,1)" font-size="7.4" font-weight="bold" text-anchor="middle" fill="#000" stroke="#000" stroke-width="0.5">T</text>
<text class="serif" transform="translate(157.07,274.50) scale(1.0,1)" font-size="7.4" font-weight="bold" text-anchor="middle" fill="#000" stroke="#000" stroke-width="0.5">C</text>
<text class="serif" transform="translate(162.09,274.50) scale(1.0,1)" font-size="7.4" font-weight="bold" text-anchor="middle" fill="#000" stroke="#000" stroke-width="0.5">T</text>
<text class="serif" x="69.8" y="264.40" font-size="7.2" font-weight="bold" fill="#000" stroke="#000" stroke-width="0.1" textLength="14.6" lengthAdjust="spacingAndGlyphs">AP-1</text>
<text class="serif" x="113.8" y="264.40" font-size="7.2" font-weight="bold" fill="#000" stroke="#000" stroke-width="0.1" textLength="28.5" lengthAdjust="spacingAndGlyphs">γ1STAT6</text>
<rect x="184.10" y="267.50" width="20.6" height="8.8" fill="#fff" stroke="#000" stroke-width="1.3"/>
<text class="serif" x="186.10" y="275.20" font-size="9.2" font-weight="bold" fill="#000" stroke="#000" stroke-width="0.3" textLength="16.8" lengthAdjust="spacingAndGlyphs">LUC</text>
<text class="sans" x="1.80" y="309.5" font-size="7.3" font-weight="bold" fill="#111" stroke="#111" stroke-width="0.3">H.</text>
<text class="sans" x="11.0" y="309.5" font-size="7.6" font-weight="bold" fill="#111" stroke="#111" stroke-width="0.3" textLength="33.80" lengthAdjust="spacingAndGlyphs"><tspan font-weight="normal" stroke-width="0.1" font-size="6.6">γ</tspan>1Luc(<tspan font-weight="normal" stroke-width="0.1" font-size="6.6">ε</tspan>S)</text>
<rect x="23.3" y="314" width="14.30" height="1" fill="#1a1a1a"/>
<rect x="23.3" y="316" width="14.30" height="1" fill="#1a1a1a"/>
<rect x="167.0" y="315" width="16.00" height="1" fill="#1a1a1a"/>
<rect x="167.0" y="317" width="16.00" height="1" fill="#1a1a1a"/>
<rect x="54.50" y="311.50" width="45.00" height="9.00" fill="#fff" stroke="#2a2a2a" stroke-width="1"/>
<rect x="99.00" y="311.00" width="52.00" height="10.00" fill="#000"/>
<rect x="100.50" y="312.50" width="49.00" height="7.00" fill="none" stroke="#fff" stroke-width="0.7"/>
<text class="serif" transform="translate(41.61,319.10) scale(1.0,1)" font-size="7.4" font-weight="bold" text-anchor="middle" fill="#000" stroke="#000" stroke-width="0.5">A</text>
<text class="serif" transform="translate(46.63,319.10) scale(1.0,1)" font-size="7.4" font-weight="bold" text-anchor="middle" fill="#000" stroke="#000" stroke-width="0.5">C</text>
<text class="serif" transform="translate(51.65,319.10) scale(1.0,1)" font-size="7.4" font-weight="bold" text-anchor="middle" fill="#000" stroke="#000" stroke-width="0.5">A</text>
<text class="serif" transform="translate(56.67,319.10) scale(1.0,1)" font-size="7.4" font-weight="bold" text-anchor="middle" fill="#000" stroke="#000" stroke-width="0.5">T</text>
<text class="serif" transform="translate(61.69,319.10) scale(1.0,1)" font-size="7.4" font-weight="bold" text-anchor="middle" fill="#000" stroke="#000" stroke-width="0.5">T</text>
<text class="serif" transform="translate(66.71,319.10) scale(1.0,1)" font-size="7.4" font-weight="bold" text-anchor="middle" fill="#000" stroke="#000" stroke-width="0.5">G</text>
<text class="serif" transform="translate(71.73,319.10) scale(1.0,1)" font-size="7.4" font-weight="bold" text-anchor="middle" fill="#000" stroke="#000" stroke-width="0.5">A</text>
<text class="serif" transform="translate(76.75,319.10) scale(1.0,1)" font-size="7.4" font-weight="bold" text-anchor="middle" fill="#000" stroke="#000" stroke-width="0.5">A</text>
<text class="serif" transform="translate(81.77,319.10) scale(1.0,1)" font-size="7.4" font-weight="bold" text-anchor="middle" fill="#000" stroke="#000" stroke-width="0.5">G</text>
<text class="serif" transform="translate(86.79,319.10) scale(1.0,1)" font-size="7.4" font-weight="bold" text-anchor="middle" fill="#000" stroke="#000" stroke-width="0.5">T</text>
<text class="serif" transform="translate(91.81,319.10) scale(1.0,1)" font-size="7.4" font-weight="bold" text-anchor="middle" fill="#000" stroke="#000" stroke-width="0.5">A</text>
<text class="serif" transform="translate(96.83,319.10) scale(1.0,1)" font-size="7.4" font-weight="bold" text-anchor="middle" fill="#000" stroke="#000" stroke-width="0.5">A</text>
<text class="serif" transform="translate(101.85,319.10) scale(1.0,1)" font-size="7.4" font-weight="bold" text-anchor="middle" fill="#fff" stroke="#fff" stroke-width="0.12">T</text>
<text class="serif" transform="translate(106.87,319.10) scale(1.0,1)" font-size="7.4" font-weight="bold" text-anchor="middle" fill="#fff" stroke="#fff" stroke-width="0.12">T</text>
<text class="serif" transform="translate(111.89,319.10) scale(1.0,1)" font-size="7.4" font-weight="bold" text-anchor="middle" fill="#fff" stroke="#fff" stroke-width="0.12">C</text>
<text class="serif" transform="translate(116.91,319.10) scale(1.0,1)" font-size="7.4" font-weight="bold" text-anchor="middle" fill="#fff" stroke="#fff" stroke-width="0.12">C</text>
<text class="serif" transform="translate(121.93,319.10) scale(1.0,1)" font-size="7.4" font-weight="bold" text-anchor="middle" fill="#fff" stroke="#fff" stroke-width="0.12">C</text>
<text class="serif" transform="translate(126.95,319.10) scale(1.0,1)" font-size="7.4" font-weight="bold" text-anchor="middle" fill="#fff" stroke="#fff" stroke-width="0.12">A</text>
<text class="serif" transform="translate(131.97,319.10) scale(1.0,1)" font-size="7.4" font-weight="bold" text-anchor="middle" fill="#fff" stroke="#fff" stroke-width="0.12">A</text>
<text class="serif" transform="translate(136.99,319.10) scale(1.0,1)" font-size="7.4" font-weight="bold" text-anchor="middle" fill="#fff" stroke="#fff" stroke-width="0.12">G</text>
<text class="serif" transform="translate(142.01,319.10) scale(1.0,1)" font-size="7.4" font-weight="bold" text-anchor="middle" fill="#fff" stroke="#fff" stroke-width="0.12">A</text>
<text class="serif" transform="translate(147.03,319.10) scale(1.0,1)" font-size="7.4" font-weight="bold" text-anchor="middle" fill="#fff" stroke="#fff" stroke-width="0.12">A</text>
<text class="serif" transform="translate(152.05,319.10) scale(1.0,1)" font-size="7.4" font-weight="bold" text-anchor="middle" fill="#000" stroke="#000" stroke-width="0.5">T</text>
<text class="serif" transform="translate(157.07,319.10) scale(1.0,1)" font-size="7.4" font-weight="bold" text-anchor="middle" fill="#000" stroke="#000" stroke-width="0.5">C</text>
<text class="serif" transform="translate(162.09,319.10) scale(1.0,1)" font-size="7.4" font-weight="bold" text-anchor="middle" fill="#000" stroke="#000" stroke-width="0.5">T</text>
<text class="serif" x="61.3" y="309.00" font-size="7.2" font-weight="bold" fill="#000" stroke="#000" stroke-width="0.1" textLength="22.2" lengthAdjust="spacingAndGlyphs">γ1bZip</text>
<text class="serif" x="113.0" y="309.00" font-size="7.2" font-weight="bold" fill="#000" stroke="#000" stroke-width="0.1" textLength="24.0" lengthAdjust="spacingAndGlyphs">εSTAT6</text>
<rect x="183.60" y="312.10" width="20.6" height="8.8" fill="#fff" stroke="#000" stroke-width="1.3"/>
<text class="serif" x="185.60" y="319.80" font-size="9.2" font-weight="bold" fill="#000" stroke="#000" stroke-width="0.3" textLength="16.8" lengthAdjust="spacingAndGlyphs">LUC</text>
<rect x="68.4" y="27" width="1" height="3.2" fill="#111"/>
<text class="sans" x="61" y="35.6" font-size="5.4" font-weight="bold" fill="#111" stroke="#111" stroke-width="0.3" textLength="11.6" lengthAdjust="spacingAndGlyphs">-125</text>
<rect x="40.5" y="69.2" width="1" height="4" fill="#111"/>
<text class="sans" x="33.9" y="78.6" font-size="5.4" font-weight="bold" fill="#111" stroke="#111" stroke-width="0.3" textLength="11.4" lengthAdjust="spacingAndGlyphs">-123</text>
<line x1="210.7" y1="43.04" x2="294" y2="43.04" stroke="#c8c8c8" stroke-width="0.8"/>
<line x1="208.5" y1="43.04" x2="210.7" y2="43.04" stroke="#333" stroke-width="0.8"/>
<line x1="210.7" y1="83.58" x2="305" y2="83.58" stroke="#b0b0b0" stroke-width="0.8"/>
<line x1="305" y1="83.58" x2="359" y2="83.58" stroke="#d0d0d0" stroke-width="0.8"/>
<line x1="208.5" y1="83.58" x2="210.7" y2="83.58" stroke="#333" stroke-width="0.8"/>
<line x1="210.7" y1="124.11" x2="359" y2="124.11" stroke="#cfcfcf" stroke-width="0.8"/>
<line x1="208.5" y1="124.11" x2="210.7" y2="124.11" stroke="#333" stroke-width="0.8"/>
<line x1="210.7" y1="164.65" x2="359" y2="164.65" stroke="#cfcfcf" stroke-width="0.8"/>
<line x1="208.5" y1="164.65" x2="210.7" y2="164.65" stroke="#333" stroke-width="0.8"/>
<line x1="210.7" y1="205.19" x2="359" y2="205.19" stroke="#cfcfcf" stroke-width="0.8"/>
<line x1="208.5" y1="205.19" x2="210.7" y2="205.19" stroke="#333" stroke-width="0.8"/>
<line x1="210.7" y1="245.73" x2="359" y2="245.73" stroke="#cfcfcf" stroke-width="0.8"/>
<line x1="208.5" y1="245.73" x2="210.7" y2="245.73" stroke="#333" stroke-width="0.8"/>
<line x1="210.7" y1="286.26" x2="359" y2="286.26" stroke="#c0c0c0" stroke-width="0.8"/>
<line x1="208.5" y1="286.26" x2="210.7" y2="286.26" stroke="#333" stroke-width="0.8"/>
<line x1="208.5" y1="2.5" x2="359.0" y2="2.5" stroke="#777" stroke-width="0.9"/>
<line x1="359.0" y1="2.5" x2="359.0" y2="326.8" stroke="#777" stroke-width="0.9"/>
<line x1="210.7" y1="326.8" x2="359.0" y2="326.8" stroke="#555" stroke-width="1"/>
<line x1="210.7" y1="2.5" x2="210.7" y2="328.8" stroke="#222" stroke-width="0.9"/>
<line x1="459" y1="43.04" x2="515.3" y2="43.04" stroke="#a8a8a8" stroke-width="0.8"/>
<line x1="363.8" y1="43.04" x2="366.0" y2="43.04" stroke="#333" stroke-width="0.8"/>
<line x1="366" y1="83.58" x2="492" y2="83.58" stroke="#d8d8d8" stroke-width="0.8"/>
<line x1="492" y1="83.58" x2="515.3" y2="83.58" stroke="#b8b8b8" stroke-width="0.8"/>
<line x1="363.8" y1="83.58" x2="366.0" y2="83.58" stroke="#333" stroke-width="0.8"/>
<line x1="366" y1="124.11" x2="515.3" y2="124.11" stroke="#e8e8e8" stroke-width="0.8"/>
<line x1="363.8" y1="124.11" x2="366.0" y2="124.11" stroke="#333" stroke-width="0.8"/>
<line x1="366" y1="164.65" x2="515.3" y2="164.65" stroke="#c0c0c0" stroke-width="0.8"/>
<line x1="363.8" y1="164.65" x2="366.0" y2="164.65" stroke="#333" stroke-width="0.8"/>
<line x1="366" y1="205.19" x2="492" y2="205.19" stroke="#c8c8c8" stroke-width="0.8"/>
<line x1="363.8" y1="205.19" x2="366.0" y2="205.19" stroke="#333" stroke-width="0.8"/>
<line x1="366" y1="245.73" x2="515.3" y2="245.73" stroke="#d0d0d0" stroke-width="0.8"/>
<line x1="363.8" y1="245.73" x2="366.0" y2="245.73" stroke="#333" stroke-width="0.8"/>
<line x1="366" y1="286.26" x2="515.3" y2="286.26" stroke="#d0d0d0" stroke-width="0.8"/>
<line x1="363.8" y1="286.26" x2="366.0" y2="286.26" stroke="#333" stroke-width="0.8"/>
<line x1="363.8" y1="2.5" x2="515.3" y2="2.5" stroke="#777" stroke-width="0.9"/>
<line x1="515.3" y1="2.5" x2="515.3" y2="326.8" stroke="#777" stroke-width="0.9"/>
<line x1="366.0" y1="326.8" x2="515.3" y2="326.8" stroke="#555" stroke-width="1"/>
<line x1="366.0" y1="2.5" x2="366.0" y2="328.8" stroke="#222" stroke-width="0.9"/>
<rect x="210.70" y="6.90" width="4.10" height="4.70" fill="#fff" stroke="#000" stroke-width="0.8"/>
<rect x="210.70" y="12.30" width="5.00" height="4.70" fill="#3a3a3a" stroke="#000" stroke-width="0.8"/>
<rect x="210.70" y="17.70" width="3.80" height="4.70" fill="#000" stroke="#000" stroke-width="0.8"/>
<rect x="210.70" y="23.10" width="3.30" height="4.70" fill="url(#vstripe)" stroke="#000" stroke-width="0.8"/>
<rect x="210.70" y="28.50" width="20.80" height="4.70" fill="#7a7a7a" stroke="#000" stroke-width="0.8"/>
<line x1="231.50" y1="30.85" x2="236.60" y2="30.85" stroke="#111" stroke-width="0.7"/>
<line x1="236.60" y1="29.55" x2="236.60" y2="32.15" stroke="#111" stroke-width="0.8"/>
<rect x="210.70" y="33.90" width="28.60" height="4.70" fill="url(#hatch)" stroke="#000" stroke-width="0.8"/>
<line x1="239.30" y1="36.25" x2="246.70" y2="36.25" stroke="#111" stroke-width="0.7"/>
<line x1="246.70" y1="34.95" x2="246.70" y2="37.55" stroke="#111" stroke-width="0.8"/>
<rect x="210.70" y="47.44" width="0.50" height="4.70" fill="#fff" stroke="#000" stroke-width="0.8"/>
<rect x="210.70" y="52.84" width="3.10" height="4.70" fill="#3a3a3a" stroke="#000" stroke-width="0.8"/>
<rect x="210.70" y="58.24" width="0.50" height="4.70" fill="#000" stroke="#000" stroke-width="0.8"/>
<rect x="210.70" y="63.64" width="2.80" height="4.70" fill="url(#vstripe)" stroke="#000" stroke-width="0.8"/>
<rect x="210.70" y="69.04" width="0.50" height="4.70" fill="#7a7a7a" stroke="#000" stroke-width="0.8"/>
<rect x="210.70" y="74.44" width="15.00" height="4.70" fill="url(#hatch)" stroke="#000" stroke-width="0.8"/>
<rect x="210.70" y="87.97" width="4.40" height="4.70" fill="#fff" stroke="#000" stroke-width="0.8"/>
<rect x="210.70" y="93.38" width="5.30" height="4.70" fill="#3a3a3a" stroke="#000" stroke-width="0.8"/>
<rect x="210.70" y="98.77" width="4.30" height="4.70" fill="#000" stroke="#000" stroke-width="0.8"/>
<rect x="210.70" y="104.17" width="4.30" height="4.70" fill="url(#vstripe)" stroke="#000" stroke-width="0.8"/>
<rect x="210.70" y="109.57" width="20.60" height="4.70" fill="#7a7a7a" stroke="#000" stroke-width="0.8"/>
<line x1="231.30" y1="111.92" x2="239.80" y2="111.92" stroke="#111" stroke-width="0.7"/>
<line x1="239.80" y1="110.62" x2="239.80" y2="113.22" stroke="#111" stroke-width="0.8"/>
<rect x="210.70" y="114.97" width="17.90" height="4.70" fill="url(#hatch)" stroke="#000" stroke-width="0.8"/>
<line x1="228.60" y1="117.33" x2="233.30" y2="117.33" stroke="#111" stroke-width="0.7"/>
<line x1="233.30" y1="116.03" x2="233.30" y2="118.62" stroke="#111" stroke-width="0.8"/>
<rect x="210.70" y="128.51" width="3.80" height="4.70" fill="#fff" stroke="#000" stroke-width="0.8"/>
<rect x="210.70" y="133.91" width="8.50" height="4.70" fill="#3a3a3a" stroke="#000" stroke-width="0.8"/>
<line x1="211.70" y1="136.26" x2="218.20" y2="136.26" stroke="#8a8a8a" stroke-width="0.7"/>
<rect x="210.70" y="139.31" width="5.80" height="4.70" fill="#000" stroke="#000" stroke-width="0.8"/>
<rect x="210.70" y="144.71" width="5.30" height="4.70" fill="url(#vstripe)" stroke="#000" stroke-width="0.8"/>
<rect x="210.70" y="150.11" width="16.90" height="4.70" fill="#7a7a7a" stroke="#000" stroke-width="0.8"/>
<line x1="227.60" y1="152.46" x2="229.00" y2="152.46" stroke="#111" stroke-width="0.7"/>
<line x1="229.00" y1="151.16" x2="229.00" y2="153.76" stroke="#111" stroke-width="0.8"/>
<rect x="210.70" y="155.51" width="29.10" height="4.70" fill="url(#hatch)" stroke="#000" stroke-width="0.8"/>
<line x1="239.80" y1="157.86" x2="245.40" y2="157.86" stroke="#111" stroke-width="0.7"/>
<line x1="245.40" y1="156.56" x2="245.40" y2="159.16" stroke="#111" stroke-width="0.8"/>
<rect x="210.70" y="169.05" width="0.50" height="4.70" fill="#fff" stroke="#000" stroke-width="0.8"/>
<rect x="210.70" y="174.45" width="0.50" height="4.70" fill="#3a3a3a" stroke="#000" stroke-width="0.8"/>
<rect x="210.70" y="179.85" width="0.50" height="4.70" fill="#000" stroke="#000" stroke-width="0.8"/>
<rect x="210.70" y="185.25" width="0.50" height="4.70" fill="url(#vstripe)" stroke="#000" stroke-width="0.8"/>
<rect x="210.70" y="190.65" width="2.30" height="4.70" fill="#7a7a7a" stroke="#000" stroke-width="0.8"/>
<rect x="210.70" y="196.05" width="0.50" height="4.70" fill="url(#hatch)" stroke="#000" stroke-width="0.8"/>
<rect x="210.70" y="209.59" width="5.80" height="4.70" fill="#fff" stroke="#000" stroke-width="0.8"/>
<rect x="210.70" y="214.99" width="88.10" height="4.70" fill="#3a3a3a" stroke="#000" stroke-width="0.8"/>
<line x1="211.70" y1="217.34" x2="297.80" y2="217.34" stroke="#8a8a8a" stroke-width="0.7"/>
<line x1="298.80" y1="217.34" x2="309.00" y2="217.34" stroke="#111" stroke-width="0.7"/>
<line x1="309.00" y1="216.04" x2="309.00" y2="218.64" stroke="#111" stroke-width="0.8"/>
<rect x="210.70" y="220.39" width="5.80" height="4.70" fill="#000" stroke="#000" stroke-width="0.8"/>
<rect x="210.70" y="225.79" width="84.80" height="4.70" fill="url(#vstripe)" stroke="#000" stroke-width="0.8"/>
<line x1="295.50" y1="228.14" x2="298.30" y2="228.14" stroke="#111" stroke-width="0.7"/>
<line x1="298.30" y1="226.84" x2="298.30" y2="229.44" stroke="#111" stroke-width="0.8"/>
<rect x="210.70" y="231.19" width="29.30" height="4.70" fill="#7a7a7a" stroke="#000" stroke-width="0.8"/>
<line x1="240.00" y1="233.54" x2="246.00" y2="233.54" stroke="#111" stroke-width="0.7"/>
<line x1="246.00" y1="232.24" x2="246.00" y2="234.84" stroke="#111" stroke-width="0.8"/>
<rect x="210.70" y="236.59" width="130.10" height="4.70" fill="url(#hatch)" stroke="#000" stroke-width="0.8"/>
<line x1="340.80" y1="238.94" x2="354.80" y2="238.94" stroke="#111" stroke-width="0.7"/>
<line x1="354.80" y1="237.64" x2="354.80" y2="240.24" stroke="#111" stroke-width="0.8"/>
<rect x="210.70" y="250.13" width="4.60" height="4.70" fill="#fff" stroke="#000" stroke-width="0.8"/>
<rect x="210.70" y="255.53" width="12.10" height="4.70" fill="#3a3a3a" stroke="#000" stroke-width="0.8"/>
<line x1="211.70" y1="257.88" x2="221.80" y2="257.88" stroke="#8a8a8a" stroke-width="0.7"/>
<rect x="210.70" y="260.93" width="7.50" height="4.70" fill="#000" stroke="#000" stroke-width="0.8"/>
<rect x="210.70" y="266.33" width="15.20" height="4.70" fill="url(#vstripe)" stroke="#000" stroke-width="0.8"/>
<line x1="225.90" y1="268.68" x2="228.00" y2="268.68" stroke="#111" stroke-width="0.7"/>
<line x1="228.00" y1="267.38" x2="228.00" y2="269.98" stroke="#111" stroke-width="0.8"/>
<rect x="210.70" y="271.73" width="12.80" height="4.70" fill="#7a7a7a" stroke="#000" stroke-width="0.8"/>
<rect x="210.70" y="277.13" width="26.00" height="4.70" fill="url(#hatch)" stroke="#000" stroke-width="0.8"/>
<line x1="236.70" y1="279.48" x2="238.70" y2="279.48" stroke="#111" stroke-width="0.7"/>
<line x1="238.70" y1="278.18" x2="238.70" y2="280.78" stroke="#111" stroke-width="0.8"/>
<rect x="210.70" y="290.66" width="5.50" height="4.70" fill="#fff" stroke="#000" stroke-width="0.8"/>
<rect x="210.70" y="296.06" width="12.10" height="4.70" fill="#3a3a3a" stroke="#000" stroke-width="0.8"/>
<line x1="211.70" y1="298.41" x2="221.80" y2="298.41" stroke="#8a8a8a" stroke-width="0.7"/>
<rect x="210.70" y="301.46" width="6.80" height="4.70" fill="#000" stroke="#000" stroke-width="0.8"/>
<rect x="210.70" y="306.86" width="14.10" height="4.70" fill="url(#vstripe)" stroke="#000" stroke-width="0.8"/>
<line x1="224.80" y1="309.21" x2="226.80" y2="309.21" stroke="#111" stroke-width="0.7"/>
<line x1="226.80" y1="307.91" x2="226.80" y2="310.51" stroke="#111" stroke-width="0.8"/>
<rect x="210.70" y="312.26" width="12.10" height="4.70" fill="#7a7a7a" stroke="#000" stroke-width="0.8"/>
<rect x="210.70" y="317.66" width="29.30" height="4.70" fill="url(#hatch)" stroke="#000" stroke-width="0.8"/>
<line x1="240.00" y1="320.01" x2="243.30" y2="320.01" stroke="#111" stroke-width="0.7"/>
<line x1="243.30" y1="318.71" x2="243.30" y2="321.31" stroke="#111" stroke-width="0.8"/>
<rect x="366.00" y="6.90" width="2.60" height="4.70" fill="#fff" stroke="#000" stroke-width="0.8"/>
<rect x="366.00" y="12.30" width="2.50" height="4.70" fill="#3a3a3a" stroke="#000" stroke-width="0.8"/>
<rect x="366.00" y="17.70" width="2.50" height="4.70" fill="#000" stroke="#000" stroke-width="0.8"/>
<rect x="366.00" y="23.10" width="2.50" height="4.70" fill="url(#vstripe)" stroke="#000" stroke-width="0.8"/>
<rect x="366.00" y="28.50" width="12.90" height="4.70" fill="#7a7a7a" stroke="#000" stroke-width="0.8"/>
<line x1="378.90" y1="30.85" x2="380.80" y2="30.85" stroke="#111" stroke-width="0.7"/>
<line x1="380.80" y1="29.55" x2="380.80" y2="32.15" stroke="#111" stroke-width="0.8"/>
<rect x="366.00" y="33.90" width="17.70" height="4.70" fill="url(#hatch)" stroke="#000" stroke-width="0.8"/>
<line x1="383.70" y1="36.25" x2="387.00" y2="36.25" stroke="#111" stroke-width="0.7"/>
<line x1="387.00" y1="34.95" x2="387.00" y2="37.55" stroke="#111" stroke-width="0.8"/>
<rect x="366.00" y="47.44" width="2.40" height="4.70" fill="#fff" stroke="#000" stroke-width="0.8"/>
<rect x="366.00" y="52.84" width="12.80" height="4.70" fill="#3a3a3a" stroke="#000" stroke-width="0.8"/>
<line x1="367.00" y1="55.19" x2="377.80" y2="55.19" stroke="#8a8a8a" stroke-width="0.7"/>
<line x1="378.80" y1="55.19" x2="381.30" y2="55.19" stroke="#111" stroke-width="0.7"/>
<line x1="381.30" y1="53.89" x2="381.30" y2="56.49" stroke="#111" stroke-width="0.8"/>
<rect x="366.00" y="58.24" width="1.80" height="4.70" fill="#000" stroke="#000" stroke-width="0.8"/>
<rect x="366.00" y="63.64" width="12.10" height="4.70" fill="url(#vstripe)" stroke="#000" stroke-width="0.8"/>
<line x1="378.10" y1="65.99" x2="383.30" y2="65.99" stroke="#111" stroke-width="0.7"/>
<line x1="383.30" y1="64.69" x2="383.30" y2="67.29" stroke="#111" stroke-width="0.8"/>
<rect x="366.00" y="69.04" width="7.60" height="4.70" fill="#7a7a7a" stroke="#000" stroke-width="0.8"/>
<rect x="366.00" y="74.44" width="80.60" height="4.70" fill="url(#hatch)" stroke="#000" stroke-width="0.8"/>
<line x1="446.60" y1="76.79" x2="458.00" y2="76.79" stroke="#111" stroke-width="0.7"/>
<line x1="458.00" y1="75.49" x2="458.00" y2="78.09" stroke="#111" stroke-width="0.8"/>
<rect x="366.00" y="87.97" width="2.80" height="4.70" fill="#fff" stroke="#000" stroke-width="0.8"/>
<rect x="366.00" y="93.38" width="2.50" height="4.70" fill="#3a3a3a" stroke="#000" stroke-width="0.8"/>
<rect x="366.00" y="98.77" width="2.00" height="4.70" fill="#000" stroke="#000" stroke-width="0.8"/>
<rect x="366.00" y="104.17" width="2.50" height="4.70" fill="url(#vstripe)" stroke="#000" stroke-width="0.8"/>
<rect x="366.00" y="109.57" width="8.80" height="4.70" fill="#7a7a7a" stroke="#000" stroke-width="0.8"/>
<line x1="374.80" y1="111.92" x2="378.20" y2="111.92" stroke="#111" stroke-width="0.7"/>
<line x1="378.20" y1="110.62" x2="378.20" y2="113.22" stroke="#111" stroke-width="0.8"/>
<rect x="366.00" y="114.97" width="7.50" height="4.70" fill="url(#hatch)" stroke="#000" stroke-width="0.8"/>
<line x1="373.50" y1="117.33" x2="375.90" y2="117.33" stroke="#111" stroke-width="0.7"/>
<line x1="375.90" y1="116.03" x2="375.90" y2="118.62" stroke="#111" stroke-width="0.8"/>
<rect x="366.00" y="128.51" width="2.80" height="4.70" fill="#fff" stroke="#000" stroke-width="0.8"/>
<rect x="366.00" y="133.91" width="4.00" height="4.70" fill="#3a3a3a" stroke="#000" stroke-width="0.8"/>
<rect x="366.00" y="139.31" width="3.00" height="4.70" fill="#000" stroke="#000" stroke-width="0.8"/>
<rect x="366.00" y="144.71" width="4.00" height="4.70" fill="url(#vstripe)" stroke="#000" stroke-width="0.8"/>
<rect x="366.00" y="150.11" width="9.50" height="4.70" fill="#7a7a7a" stroke="#000" stroke-width="0.8"/>
<line x1="375.50" y1="152.46" x2="377.00" y2="152.46" stroke="#111" stroke-width="0.7"/>
<line x1="377.00" y1="151.16" x2="377.00" y2="153.76" stroke="#111" stroke-width="0.8"/>
<rect x="366.00" y="155.51" width="17.60" height="4.70" fill="url(#hatch)" stroke="#000" stroke-width="0.8"/>
<line x1="383.60" y1="157.86" x2="385.60" y2="157.86" stroke="#111" stroke-width="0.7"/>
<line x1="385.60" y1="156.56" x2="385.60" y2="159.16" stroke="#111" stroke-width="0.8"/>
<rect x="366.00" y="169.05" width="2.80" height="4.70" fill="#fff" stroke="#000" stroke-width="0.8"/>
<rect x="366.00" y="174.45" width="3.00" height="4.70" fill="#3a3a3a" stroke="#000" stroke-width="0.8"/>
<rect x="366.00" y="179.85" width="2.00" height="4.70" fill="#000" stroke="#000" stroke-width="0.8"/>
<rect x="366.00" y="185.25" width="3.00" height="4.70" fill="url(#vstripe)" stroke="#000" stroke-width="0.8"/>
<rect x="366.00" y="190.65" width="6.80" height="4.70" fill="#7a7a7a" stroke="#000" stroke-width="0.8"/>
<line x1="372.80" y1="193.00" x2="375.50" y2="193.00" stroke="#111" stroke-width="0.7"/>
<line x1="375.50" y1="191.70" x2="375.50" y2="194.30" stroke="#111" stroke-width="0.8"/>
<rect x="366.00" y="196.05" width="14.00" height="4.70" fill="url(#hatch)" stroke="#000" stroke-width="0.8"/>
<line x1="380.00" y1="198.40" x2="388.60" y2="198.40" stroke="#111" stroke-width="0.7"/>
<line x1="388.60" y1="197.10" x2="388.60" y2="199.70" stroke="#111" stroke-width="0.8"/>
<rect x="366.00" y="209.59" width="2.00" height="4.70" fill="#fff" stroke="#000" stroke-width="0.8"/>
<rect x="366.00" y="214.99" width="44.20" height="4.70" fill="#3a3a3a" stroke="#000" stroke-width="0.8"/>
<line x1="367.00" y1="217.34" x2="409.20" y2="217.34" stroke="#8a8a8a" stroke-width="0.7"/>
<line x1="410.20" y1="217.34" x2="419.40" y2="217.34" stroke="#111" stroke-width="0.7"/>
<line x1="419.40" y1="216.04" x2="419.40" y2="218.64" stroke="#111" stroke-width="0.8"/>
<rect x="366.00" y="220.39" width="1.00" height="4.70" fill="#000" stroke="#000" stroke-width="0.8"/>
<rect x="366.00" y="225.79" width="43.20" height="4.70" fill="url(#vstripe)" stroke="#000" stroke-width="0.8"/>
<line x1="409.20" y1="228.14" x2="414.50" y2="228.14" stroke="#111" stroke-width="0.7"/>
<line x1="414.50" y1="226.84" x2="414.50" y2="229.44" stroke="#111" stroke-width="0.8"/>
<rect x="366.00" y="231.19" width="15.00" height="4.70" fill="#7a7a7a" stroke="#000" stroke-width="0.8"/>
<line x1="381.00" y1="233.54" x2="384.60" y2="233.54" stroke="#111" stroke-width="0.7"/>
<line x1="384.60" y1="232.24" x2="384.60" y2="234.84" stroke="#111" stroke-width="0.8"/>
<rect x="366.00" y="236.59" width="119.50" height="4.70" fill="url(#hatch)" stroke="#000" stroke-width="0.8"/>
<line x1="485.50" y1="238.94" x2="503.00" y2="238.94" stroke="#111" stroke-width="0.7"/>
<line x1="503.00" y1="237.64" x2="503.00" y2="240.24" stroke="#111" stroke-width="0.8"/>
<rect x="366.00" y="250.13" width="3.00" height="4.70" fill="#fff" stroke="#000" stroke-width="0.8"/>
<rect x="366.00" y="255.53" width="9.90" height="4.70" fill="#3a3a3a" stroke="#000" stroke-width="0.8"/>
<line x1="367.00" y1="257.88" x2="374.90" y2="257.88" stroke="#8a8a8a" stroke-width="0.7"/>
<rect x="366.00" y="260.93" width="4.60" height="4.70" fill="#000" stroke="#000" stroke-width="0.8"/>
<rect x="366.00" y="266.33" width="10.10" height="4.70" fill="url(#vstripe)" stroke="#000" stroke-width="0.8"/>
<rect x="366.00" y="271.73" width="8.80" height="4.70" fill="#7a7a7a" stroke="#000" stroke-width="0.8"/>
<rect x="366.00" y="277.13" width="18.40" height="4.70" fill="url(#hatch)" stroke="#000" stroke-width="0.8"/>
<line x1="384.40" y1="279.48" x2="386.20" y2="279.48" stroke="#111" stroke-width="0.7"/>
<line x1="386.20" y1="278.18" x2="386.20" y2="280.78" stroke="#111" stroke-width="0.8"/>
<rect x="366.00" y="290.66" width="3.00" height="4.70" fill="#fff" stroke="#000" stroke-width="0.8"/>
<rect x="366.00" y="296.06" width="8.50" height="4.70" fill="#3a3a3a" stroke="#000" stroke-width="0.8"/>
<line x1="367.00" y1="298.41" x2="373.50" y2="298.41" stroke="#8a8a8a" stroke-width="0.7"/>
<rect x="366.00" y="301.46" width="4.50" height="4.70" fill="#000" stroke="#000" stroke-width="0.8"/>
<rect x="366.00" y="306.86" width="9.90" height="4.70" fill="url(#vstripe)" stroke="#000" stroke-width="0.8"/>
<rect x="366.00" y="312.26" width="7.20" height="4.70" fill="#7a7a7a" stroke="#000" stroke-width="0.8"/>
<rect x="366.00" y="317.66" width="18.80" height="4.70" fill="url(#hatch)" stroke="#000" stroke-width="0.8"/>
<line x1="384.80" y1="320.01" x2="387.50" y2="320.01" stroke="#111" stroke-width="0.7"/>
<line x1="387.50" y1="318.71" x2="387.50" y2="321.31" stroke="#111" stroke-width="0.8"/>
<polygon points="320.3,235.74 322.5,235.74 326.5,242.14 324.3,242.14" fill="#fff"/>
<line x1="319.8" y1="235.24" x2="323.8" y2="242.64" stroke="#000" stroke-width="0.7"/>
<line x1="322.8" y1="235.24" x2="326.8" y2="242.64" stroke="#000" stroke-width="0.7"/>
<line x1="210.90" y1="326.8" x2="210.90" y2="329.6" stroke="#333" stroke-width="0.8"/>
<text class="sans" x="210.90" y="339.2" font-size="7.3" text-anchor="middle" fill="#222" stroke="#222" stroke-width="0.15">0</text>
<line x1="232.00" y1="326.8" x2="232.00" y2="329.6" stroke="#333" stroke-width="0.8"/>
<text class="sans" x="232.00" y="339.2" font-size="7.3" text-anchor="middle" fill="#222" stroke="#222" stroke-width="0.15">5</text>
<line x1="253.10" y1="326.8" x2="253.10" y2="329.6" stroke="#333" stroke-width="0.8"/>
<text class="sans" x="253.10" y="339.2" font-size="7.3" text-anchor="middle" fill="#222" stroke="#222" stroke-width="0.15">10</text>
<line x1="274.20" y1="326.8" x2="274.20" y2="329.6" stroke="#333" stroke-width="0.8"/>
<text class="sans" x="274.20" y="339.2" font-size="7.3" text-anchor="middle" fill="#222" stroke="#222" stroke-width="0.15">15</text>
<line x1="295.30" y1="326.8" x2="295.30" y2="329.6" stroke="#333" stroke-width="0.8"/>
<text class="sans" x="295.30" y="339.2" font-size="7.3" text-anchor="middle" fill="#222" stroke="#222" stroke-width="0.15">20</text>
<line x1="316.40" y1="326.8" x2="316.40" y2="329.6" stroke="#333" stroke-width="0.8"/>
<text class="sans" x="316.40" y="339.2" font-size="7.3" text-anchor="middle" fill="#222" stroke="#222" stroke-width="0.15">25</text>
<line x1="338.20" y1="326.8" x2="338.20" y2="329.6" stroke="#333" stroke-width="0.8"/>
<text class="sans" x="338.20" y="339.2" font-size="7.3" text-anchor="middle" fill="#222" stroke="#222" stroke-width="0.15">50</text>
<line x1="359.30" y1="326.8" x2="359.30" y2="329.6" stroke="#333" stroke-width="0.8"/>
<text class="sans" x="358.10" y="339.2" font-size="7.3" text-anchor="middle" fill="#222" stroke="#222" stroke-width="0.15">55</text>
<polygon points="320,323.3 322.5,323.3 327,330.3 324.5,330.3" fill="#fff"/>
<line x1="319.6" y1="323.0" x2="323.6" y2="330.6" stroke="#111" stroke-width="0.8"/>
<line x1="322.9" y1="323.0" x2="326.9" y2="330.6" stroke="#111" stroke-width="0.8"/>
<line x1="366.00" y1="326.8" x2="366.00" y2="329.6" stroke="#333" stroke-width="0.8"/>
<text class="sans" x="366.00" y="340.1" font-size="7.3" text-anchor="middle" fill="#222" stroke="#222" stroke-width="0.15">0</text>
<line x1="390.80" y1="326.8" x2="390.80" y2="329.6" stroke="#333" stroke-width="0.8"/>
<text class="sans" x="390.80" y="340.1" font-size="7.3" text-anchor="middle" fill="#222" stroke="#222" stroke-width="0.15">10</text>
<line x1="415.60" y1="326.8" x2="415.60" y2="329.6" stroke="#333" stroke-width="0.8"/>
<text class="sans" x="415.60" y="340.1" font-size="7.3" text-anchor="middle" fill="#222" stroke="#222" stroke-width="0.15">20</text>
<line x1="440.40" y1="326.8" x2="440.40" y2="329.6" stroke="#333" stroke-width="0.8"/>
<text class="sans" x="440.40" y="340.1" font-size="7.3" text-anchor="middle" fill="#222" stroke="#222" stroke-width="0.15">30</text>
<line x1="465.20" y1="326.8" x2="465.20" y2="329.6" stroke="#333" stroke-width="0.8"/>
<text class="sans" x="465.20" y="340.1" font-size="7.3" text-anchor="middle" fill="#222" stroke="#222" stroke-width="0.15">40</text>
<line x1="490.00" y1="326.8" x2="490.00" y2="329.6" stroke="#333" stroke-width="0.8"/>
<text class="sans" x="490.00" y="340.1" font-size="7.3" text-anchor="middle" fill="#222" stroke="#222" stroke-width="0.15">50</text>
<line x1="514.80" y1="326.8" x2="514.80" y2="329.6" stroke="#333" stroke-width="0.8"/>
<text class="sans" x="514.80" y="340.1" font-size="7.3" text-anchor="middle" fill="#222" stroke="#222" stroke-width="0.15">60</text>
<text class="sans" x="217.4" y="352.2" font-size="8.5" font-weight="bold" fill="#111" stroke="#111" stroke-width="0.2" textLength="123.6" lengthAdjust="spacingAndGlyphs">light units (X10<tspan font-size="5.6" dy="-3">-6</tspan><tspan dy="3">)(mean+ SEM)</tspan></text>
<text class="sans" x="382.9" y="352.4" font-size="8.4" font-weight="bold" fill="#111" stroke="#111" stroke-width="0.2" textLength="110" lengthAdjust="spacingAndGlyphs">Fold Induction (mean+ SEM)</text>
<text class="sans" x="453.5" y="26.1" font-size="8.4" fill="#111" stroke="#111" stroke-width="0.25" letter-spacing="0.35">M12.4.1</text>
<text class="sans" x="463.3" y="190.7" font-size="9" fill="#111" stroke="#111" stroke-width="0.2" letter-spacing="0.5">n=3</text>
<rect x="437" y="110.4" width="59" height="68" fill="#fff" stroke="#888" stroke-width="0.8"/>
<rect x="440.5" y="115.10" width="5" height="5" fill="#fff" stroke="#000" stroke-width="0.8"/>
<text class="sans" x="449.2" y="120.50" font-size="8.6" fill="#111" stroke="#111" stroke-width="0.2">M</text>
<rect x="440.5" y="126.16" width="5" height="5" fill="#3a3a3a" stroke="#000" stroke-width="0.8"/>
<text class="sans" x="449.2" y="131.56" font-size="8.6" fill="#111" stroke="#111" stroke-width="0.2">IL4</text>
<rect x="440.5" y="137.22" width="5" height="5" fill="#000" stroke="#000" stroke-width="0.8"/>
<text class="sans" x="449.2" y="142.62" font-size="8.6" fill="#111" stroke="#111" stroke-width="0.2">Ctrl S</text>
<rect x="440.5" y="148.28" width="5" height="5" fill="#555" stroke="#000" stroke-width="0.8"/>
<text class="sans" x="449.2" y="153.68" font-size="8.6" fill="#111" stroke="#111" stroke-width="0.2">IL4+Ctrl S</text>
<rect x="440.5" y="159.34" width="5" height="5" fill="#7a7a7a" stroke="#000" stroke-width="0.8"/>
<text class="sans" x="449.2" y="164.74" font-size="8.6" fill="#111" stroke="#111" stroke-width="0.2">CD40L</text>
<rect x="440.5" y="170.40" width="5" height="5" fill="url(#hatch)" stroke="#000" stroke-width="0.8"/>
<text class="sans" x="449.2" y="175.80" font-size="8.6" fill="#111" stroke="#111" stroke-width="0.2">IL4+CD40L</text>
</svg></body></html>
